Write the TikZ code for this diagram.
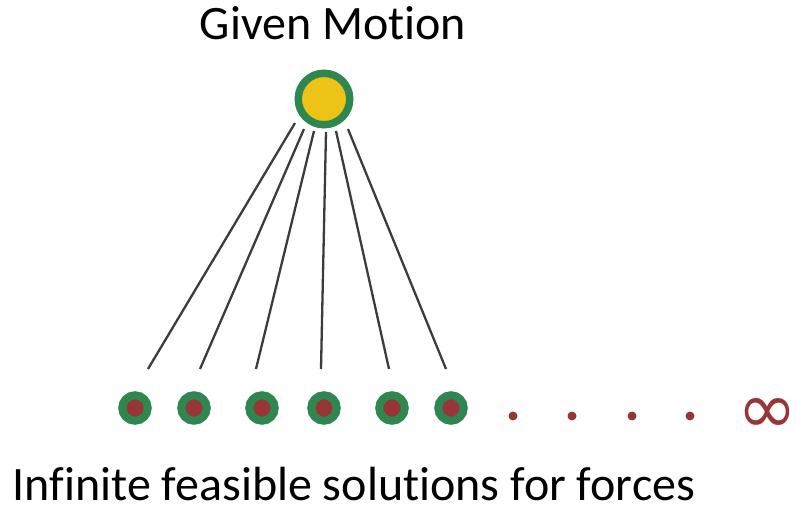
\documentclass[tikz,border=0pt]{standalone}
\usepackage{fontspec}
\setmainfont{Carlito}[RawFeature={-liga}]
\newfontfamily\symfont{DejaVu Sans}
\definecolor{ringgreen}{RGB}{46,134,80}
\definecolor{sunyellow}{RGB}{237,196,22}
\definecolor{dotred}{RGB}{151,53,56}
\definecolor{linegray}{RGB}{60,60,60}
\begin{document}
\begin{tikzpicture}[x=1pt,y=-1pt,
  topball/.style={circle,draw=ringgreen,fill=sunyellow,line width=7.5pt,minimum size=51.5pt,inner sep=0pt},
  ball/.style={circle,draw=ringgreen,fill=dotred,line width=8pt,minimum size=25.5pt,inner sep=0pt},
  smalldot/.style={circle,fill=dotred,minimum size=9pt,inner sep=0pt},
  link/.style={draw=linegray,line width=2.3pt},
  lbl/.style={font=\fontsize{48}{56}\selectfont,inner sep=0pt,anchor=base}]
\useasboundingbox (0,0) rectangle (796,513);
\node[lbl] (title) at (333,40) {Given Motion};
\node[topball] (top) at (324,99) {};
\node[ball] (b1) at (135,408) {};
\node[ball] (b2) at (194,408) {};
\node[ball] (b3) at (262,408) {};
\node[ball] (b4) at (324,408) {};
\node[ball] (b5) at (392,408) {};
\node[ball] (b6) at (451,408) {};
\node[smalldot] (d1) at (513,416) {};
\node[smalldot] (d2) at (572,416) {};
\node[smalldot] (d3) at (632,416) {};
\node[smalldot] (d4) at (690,416) {};
\node[inner sep=0pt,text=dotred,font=\symfont\fontsize{72}{72}\selectfont] (inf) at (767,416) {\makebox[44pt]{∞}};
\coordinate (s1) at (295,123); \coordinate (e1) at (148,369);
\coordinate (s2) at (304,129); \coordinate (e2) at (200,369);
\coordinate (s3) at (314,131); \coordinate (e3) at (256,369);
\coordinate (s4) at (326,132); \coordinate (e4) at (321,369);
\coordinate (s5) at (336,131); \coordinate (e5) at (389,369);
\coordinate (s6) at (348,129); \coordinate (e6) at (446,369);
\foreach \i in {1,...,6} {\draw[link] (s\i) -- (e\i);}
\node[lbl] (caption) at (354,500) {Infinite feasible solutions for forces};
\end{tikzpicture}
\end{document}
